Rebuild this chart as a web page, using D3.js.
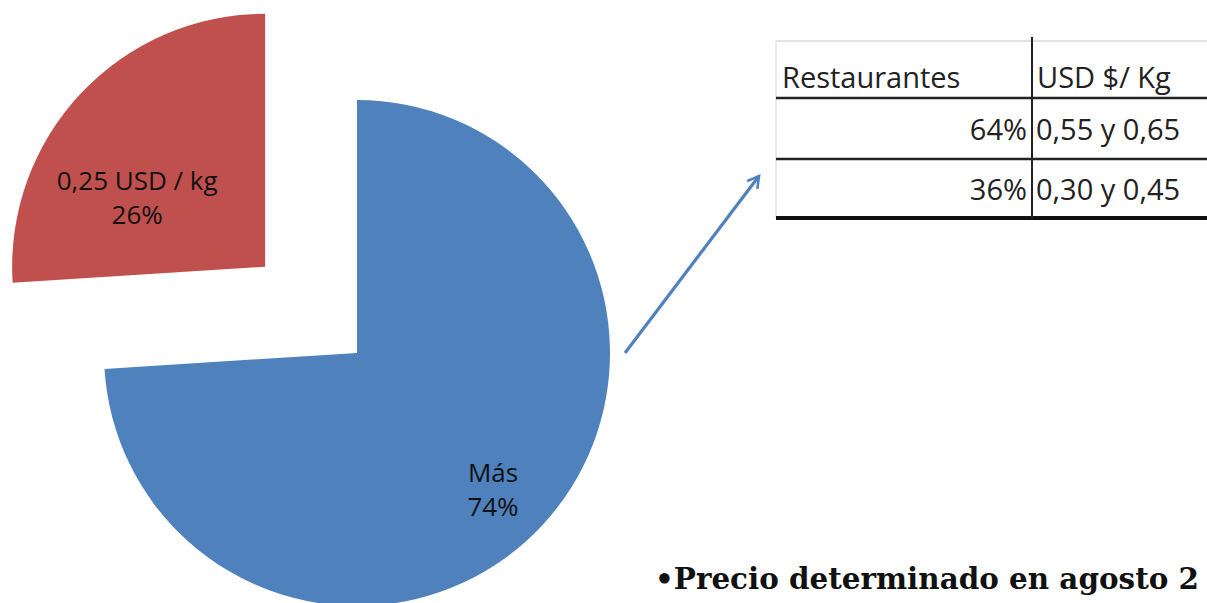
<!DOCTYPE html>
<html>
<head>
<meta charset="utf-8">
<script src="https://cdn.jsdelivr.net/npm/d3@7"></script>
<style>
  html, body { margin: 0; padding: 0; background: #fff; overflow: hidden; }
  svg { display: block; }
</style>
</head>
<body>
<script>
// Pie data: price categories and their share of restaurants
const categories = ["Más", "0,25 USD / kg"];
const shares = [74, 26];
const shareLabels = ["74%", "26%"];

// Table data
const tableHeader = ["Restaurantes", "USD $/ Kg"];
const tableShares = ["64%", "36%"];
const tablePrices = ["0,55 y 0,65", "0,30 y 0,45"];

const footnote = "•Precio determinado en agosto 2";

const W = 1207, H = 603;
const svg = d3.select("body").append("svg").attr("width", W).attr("height", H);

const colors = d3.scaleOrdinal().domain(categories).range(["#4F81BD", "#C0504D"]);

// ---- Pie ----
const cx = 357, cy = 353, R = 253;
const explodeBy = { "0,25 USD / kg": 126, "Más": 0 };
const labelPlace = { "Más": { dx: 136, dy: 137 }, "0,25 USD / kg": { dx: -128, dy: -69 } };

const pie = d3.pie().sort(null).value(d => d.value);
const arcs = pie(categories.map((c, i) => ({ name: c, value: shares[i], label: shareLabels[i] })));
const arc = d3.arc().innerRadius(0).outerRadius(R);

const slices = svg.append("g").selectAll("g").data(arcs).join("g")
  .attr("transform", d => {
    const mid = (d.startAngle + d.endAngle) / 2;
    const k = explodeBy[d.data.name];
    return `translate(${cx + Math.sin(mid) * k},${cy - Math.cos(mid) * k})`;
  });

slices.append("path")
  .attr("d", arc)
  .attr("fill", d => colors(d.data.name));

const lbl = slices.append("text")
  .attr("text-anchor", "middle")
  .attr("font-family", "Open Sans, sans-serif")
  .attr("font-size", 26)
  .attr("fill", "#111");
lbl.append("tspan")
  .attr("x", d => labelPlace[d.data.name].dx)
  .attr("y", d => labelPlace[d.data.name].dy - 8)
  .text(d => d.data.name);
lbl.append("tspan")
  .attr("x", d => labelPlace[d.data.name].dx)
  .attr("y", d => labelPlace[d.data.name].dy + 26)
  .text(d => d.data.label);

// ---- Arrow towards the table ----
const defs = svg.append("defs");
defs.append("marker")
  .attr("id", "head")
  .attr("viewBox", "0 0 10 10")
  .attr("refX", 8).attr("refY", 5)
  .attr("markerWidth", 5).attr("markerHeight", 5)
  .attr("orient", "auto")
  .append("path")
  .attr("d", "M1,1 L8,5 L1,9")
  .attr("fill", "none")
  .attr("stroke", "#4F81BD")
  .attr("stroke-width", 1.6);

svg.append("line")
  .attr("x1", 625).attr("y1", 353)
  .attr("x2", 759).attr("y2", 176)
  .attr("stroke", "#4F81BD")
  .attr("stroke-width", 3.2)
  .attr("marker-end", "url(#head)");

// ---- Table ----
const tx0 = 776, tx1 = 1240, colX = 1032;
const rowY = [41, 98, 159, 218];
const tbl = svg.append("g");
const fontT = "Open Sans, sans-serif";
const sizeT = 29;

tbl.append("line").attr("x1", tx0).attr("x2", tx1).attr("y1", rowY[0]).attr("y2", rowY[0])
  .attr("stroke", "#d8d8d8").attr("stroke-width", 1.5);
tbl.append("line").attr("x1", tx0).attr("x2", tx0).attr("y1", rowY[0]).attr("y2", rowY[3])
  .attr("stroke", "#e4e4e4").attr("stroke-width", 1.5);
tbl.append("line").attr("x1", tx0).attr("x2", tx1).attr("y1", rowY[1]).attr("y2", rowY[1])
  .attr("stroke", "#222").attr("stroke-width", 2.5);
tbl.append("line").attr("x1", tx0).attr("x2", tx1).attr("y1", rowY[2]).attr("y2", rowY[2])
  .attr("stroke", "#222").attr("stroke-width", 2.5);
tbl.append("line").attr("x1", tx0).attr("x2", tx1).attr("y1", rowY[3]).attr("y2", rowY[3])
  .attr("stroke", "#111").attr("stroke-width", 4);
tbl.append("line").attr("x1", colX).attr("x2", colX).attr("y1", rowY[0] - 4).attr("y2", rowY[3])
  .attr("stroke", "#222").attr("stroke-width", 2);

tbl.append("text").attr("x", 782).attr("y", 88).attr("font-family", fontT).attr("font-size", sizeT)
  .attr("fill", "#222").text(tableHeader[0]);
tbl.append("text").attr("x", 1037).attr("y", 88).attr("font-family", fontT).attr("font-size", sizeT)
  .attr("fill", "#222").text(tableHeader[1]);

tableShares.forEach((s, i) => {
  const yb = (rowY[i + 1] + rowY[i + 2]) / 2 + 11;
  tbl.append("text").attr("x", colX - 5).attr("y", yb).attr("text-anchor", "end")
    .attr("font-family", fontT).attr("font-size", sizeT).attr("fill", "#222").text(s);
  tbl.append("text").attr("x", colX + 4).attr("y", yb)
    .attr("font-family", fontT).attr("font-size", sizeT).attr("fill", "#222").text(tablePrices[i]);
});

// ---- Footnote ----
svg.append("text")
  .attr("x", 655).attr("y", 589)
  .attr("font-family", "DejaVu Serif, serif")
  .attr("font-weight", "bold")
  .attr("font-size", 29)
  .attr("textLength", 544)
  .attr("lengthAdjust", "spacingAndGlyphs")
  .attr("fill", "#111")
  .text(footnote);
</script>
</body>
</html>
